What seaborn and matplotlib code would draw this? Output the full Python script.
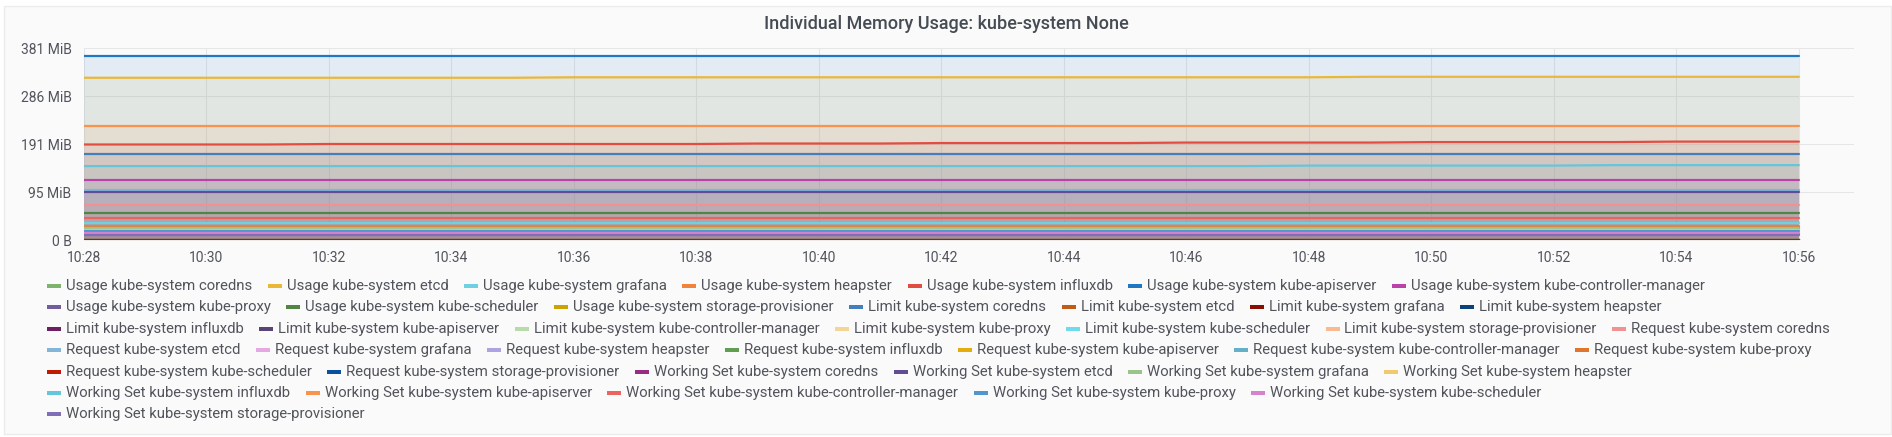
import numpy as np
import pandas as pd
import matplotlib
matplotlib.use("Agg")
import matplotlib.pyplot as plt
import matplotlib.ticker as mticker
import matplotlib.dates as mdates
from matplotlib.patches import Rectangle
import seaborn as sns

pods = ["coredns", "etcd", "grafana", "heapster", "influxdb", "kube-apiserver",
        "kube-controller-manager", "kube-proxy", "kube-scheduler", "storage-provisioner"]
metrics = ["Usage", "Limit", "Request", "Working Set"]

times = pd.date_range("2019-03-01 10:28", "2019-03-01 10:56", freq="1min")

# flat levels in MB, one per pod (same order as pods)
usage_mb = [30, 339, 36, 28, 200, 383, 124, 24, 56, 22]
limit_mb = [178.3, 0, 0, 0, 0, 0, 0, 0, 0, 0]
request_mb = [73.4, 104.9, 0, 0, 0, 0, 0, 0, 0, 0]
working_set_mb = [12, 100, 26, 20, 154, 238, 45, 19, 15, 10]

# the few series that drift over the window
usage_influxdb_mb = [199, 199, 199, 199, 200, 200, 200, 200, 200, 200, 200, 201, 201, 201, 202,
                     202, 202, 202, 203, 203, 203, 203, 204, 204, 204, 204, 205, 205, 205]
working_set_influxdb_mb = [154, 154, 154, 154, 154, 154, 154, 154, 154, 154, 154, 154, 154, 154, 154,
                           154, 154, 154, 154, 154, 155, 155, 155, 155, 155, 156, 156, 156, 156]
usage_etcd_mb = [338, 338, 338, 338, 338, 338, 338, 338, 339, 339, 339, 339, 339, 339, 339,
                 339, 339, 339, 339, 339, 339, 340, 340, 340, 340, 340, 340, 340, 340]

# grafana classic palette, in series order
palette = ["#7EB26D", "#EAB839", "#6ED0E0", "#EF843C", "#E24D42", "#1F78C1", "#BA43A9", "#705DA0",
           "#508642", "#CCA300", "#447EBC", "#C15C17", "#890F02", "#0A437C", "#6D1F62", "#584477",
           "#B7DBAB", "#F4D598", "#70DBED", "#F9BA8F", "#F29191", "#82B5D8", "#E5A8E2", "#AEA2E0",
           "#629E51", "#E5AC0E", "#64B0C8", "#E0752D", "#BF1B00", "#0A50A1", "#962D82", "#614D93",
           "#9AC48A", "#F2C96D", "#65C5DB", "#F9934E", "#EA6460", "#5195CE", "#D683CE", "#806EB7"]

levels = {"Usage": usage_mb, "Limit": limit_mb, "Request": request_mb, "Working Set": working_set_mb}
drifting = {("Usage", "influxdb"): usage_influxdb_mb,
            ("Working Set", "influxdb"): working_set_influxdb_mb,
            ("Usage", "etcd"): usage_etcd_mb}

labels = []
frames = []
for m in metrics:
    for i, p in enumerate(pods):
        label = f"{m} kube-system {p}"
        labels.append(label)
        vals = drifting.get((m, p), [levels[m][i]] * len(times))
        frames.append(pd.DataFrame({"time": times, "bytes": np.array(vals) * 1e6, "series": label}))
df = pd.concat(frames, ignore_index=True)

sns.set_style("white")
plt.rcParams["font.family"] = ["Roboto", "DejaVu Sans"]

W, H = 1892, 437
fig = plt.figure(figsize=(W / 100, H / 100), dpi=100)
fig.patch.set_facecolor("white")
fig.patches.append(Rectangle((4 / W, 1 - 434 / H), 1887 / W, 428 / H, transform=fig.transFigure,
                             facecolor="#fafafa", edgecolor="#ececec", linewidth=1, zorder=-10))

ax = fig.add_axes([84 / W, 1 - 240 / H, (1854 - 84) / W, 192 / H])
ax.set_facecolor("#fafafa")

for label, color in zip(labels, palette):
    sub = df[df["series"] == label]
    ax.fill_between(sub["time"], 0, sub["bytes"], color=color, alpha=0.1, linewidth=0)

sns.lineplot(data=df, x="time", y="bytes", hue="series", hue_order=labels, palette=palette,
             linewidth=1.6, legend=False, ax=ax)

ax.set_ylim(0, 400e6)
ax.set_xlim(times[0], times[-1] + pd.Timedelta(seconds=54))
ax.set_yticks([0, 100e6, 200e6, 300e6, 400e6])
ax.yaxis.set_major_formatter(mticker.FuncFormatter(
    lambda v, pos: "0 B" if v == 0 else f"{v / 1048576:.0f} MiB"))
ax.set_xticks(times[::2])
ax.xaxis.set_major_formatter(mdates.DateFormatter("%H:%M"))
ax.grid(True, color="#e6e6e6", linewidth=0.75)
ax.set_axisbelow(True)
for s in ax.spines.values():
    s.set_visible(False)
ax.tick_params(length=0, labelsize=10, labelcolor="#52545c")
ax.tick_params(axis="y", pad=9)
ax.tick_params(axis="x", pad=8)
ax.set_xlabel("")
ax.set_ylabel("")

fig.text(0.5, 1 - 24 / H, "Individual Memory Usage: kube-system None", ha="center", va="center",
         fontsize=13, color="#464c54", fontweight="medium")

# grafana style flowing legend
rows = [7, 7, 7, 7, 6, 5, 1]
renderer = fig.canvas.get_renderer()
k = 0
for r, n in enumerate(rows):
    y = 286 + r * 21.4
    x = 47
    for _ in range(n):
        fig.patches.append(Rectangle((x / W, 1 - (y + 2) / H), 14 / W, 4 / H, transform=fig.transFigure,
                                     facecolor=palette[k], edgecolor="none"))
        t = fig.text((x + 19) / W, 1 - y / H, labels[k], ha="left", va="center",
                     fontsize=10.7, color="#52545c")
        w = t.get_window_extent(renderer).width
        x = x + 19 + w + 15.5
        k += 1

fig.savefig("out.png", dpi=100, facecolor=fig.get_facecolor())
